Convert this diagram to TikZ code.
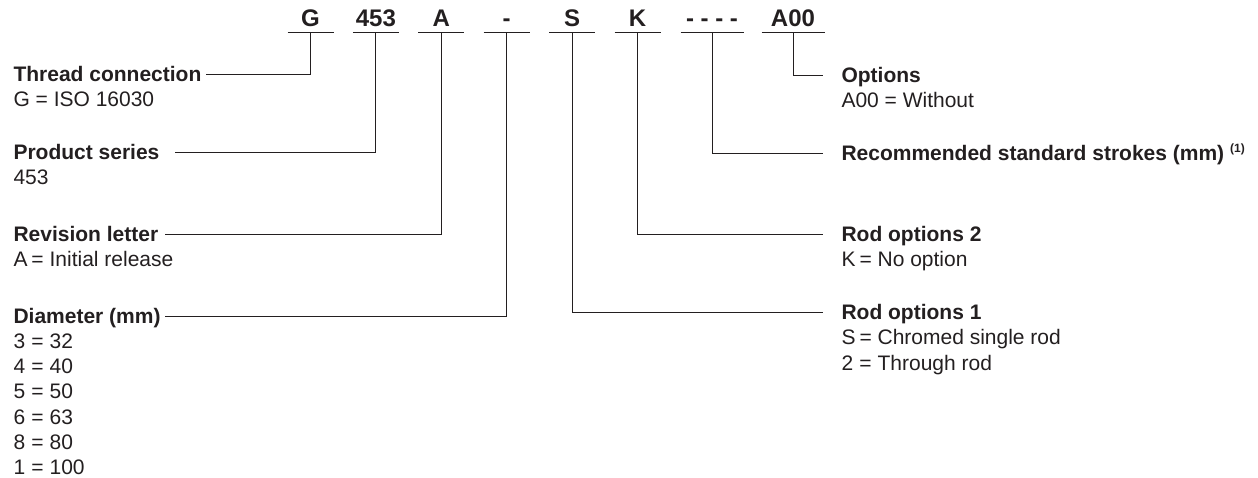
\documentclass[tikz,border=0pt]{standalone}
\usepackage{fontspec}
\setmainfont{Liberation Sans}
\usetikzlibrary{positioning}
\definecolor{ink}{HTML}{231F20}
\tikzset{
  order/.style={x=0.5pt,y=-0.5pt,
    line width=0.5pt,
    draw=ink,
    text=ink,
    node distance=9.7pt},
  code/.style={font=\fontsize{12}{14}\selectfont\bfseries,
    minimum width=22.5pt,
    text height=8.6pt,
    text depth=0pt,
    inner xsep=0pt,
    inner ysep=2.5pt},
  wide code/.style={code,minimum width=31pt},
  heading/.style={font=\fontsize{10.5}{12.6}\selectfont\bfseries,
    text height=7.5pt,
    text depth=0pt,
    inner sep=0pt,
    anchor=west},
  desc/.style={font=\fontsize{10.5}{12.65}\selectfont,
    align=left,
    inner sep=0pt},
  lead/.style={draw=ink,line width=0.5pt,shorten >=2pt},
  lead right/.style={lead,shorten >=9pt}
}
\newcommand{\codekey}[1]{\makebox[9pt][l]{#1}}

\begin{document}
\begin{tikzpicture}[order]
  \useasboundingbox (0,0) rectangle (1258,477);
  % the ordering code
  \node[code,anchor=south] (cG) at (310.5,32) {G};
  \node[code,right=of cG] (cSeries) {453};
  \node[code,right=of cSeries] (cRev) {A};
  \node[code,right=of cRev] (cDia) {-};
  \node[code,right=of cDia] (cRod1) {S};
  \node[code,right=of cRod1] (cRod2) {K};
  \node[wide code,right=10pt of cRod2] (cStroke) {- - - -};
  \node[wide code,right=9pt of cStroke] (cOpt) {A00};
  \foreach \c in {cG,cSeries,cRev,cDia,cRod1,cRod2,cStroke,cOpt}
    \draw (\c.south west) -- (\c.south east);

  % left column
  \node[heading] (hThread) at (13,74) {Thread connection};
  \node[desc,below right=4.5pt and 0pt of hThread.south west] (dThread) {G = ISO 16030};
  \node[heading] (hSeries) at (13,152) {Product series};
  \node[desc,below right=4.5pt and 0pt of hSeries.south west] (dSeries) {453};
  \node[heading] (hRev) at (13,234) {Revision letter};
  \node[desc,below right=4.5pt and 0pt of hRev.south west] (dRev) {\codekey{A}= Initial release};
  \node[heading] (hDia) at (13,316) {Diameter (mm)};
  \node[desc,below right=4.5pt and 0pt of hDia.south west] (dDia)
    {\codekey{3}= 32\\\codekey{4}= 40\\\codekey{5}= 50\\\codekey{6}= 63\\\codekey{8}= 80\\\codekey{1}= 100};

  % right column
  \node[heading] (hOpt) at (841,75) {Options};
  \node[desc,below right=4.5pt and 0pt of hOpt.south west] (dOpt) {A00 = Without};
  \node[heading] (hStroke) at (841,153) {Recommended standard strokes (mm) \textsuperscript{\fontsize{6}{7}\selectfont(1)}};
  \node[heading] (hRod2) at (841,234) {Rod options 2};
  \node[desc,below right=4.5pt and 0pt of hRod2.south west] (dRod2) {\codekey{K}= No option};
  \node[heading] (hRod1) at (841,312) {Rod options 1};
  \node[desc,below right=4.5pt and 0pt of hRod1.south west] (dRod1)
    {\codekey{S}= Chromed single rod\\\codekey{2}= Through rod};

  % leaders
  \draw[lead] (cG.south) |- (hThread.east);
  \draw[lead,shorten >=7.5pt] (cSeries.south) |- (hSeries.east);
  \draw[lead,shorten >=3pt] (cRev.south) |- (hRev.east);
  \draw[lead] (cDia.south) |- (hDia.east);
  \draw[lead right] (cRod1.south) |- (hRod1.west);
  \draw[lead right] (cRod2.south) |- (hRod2.west);
  \draw[lead right] (cStroke.south) |- (hStroke.west);
  \draw[lead right] (cOpt.south) |- (hOpt.west);
\end{tikzpicture}
\end{document}
